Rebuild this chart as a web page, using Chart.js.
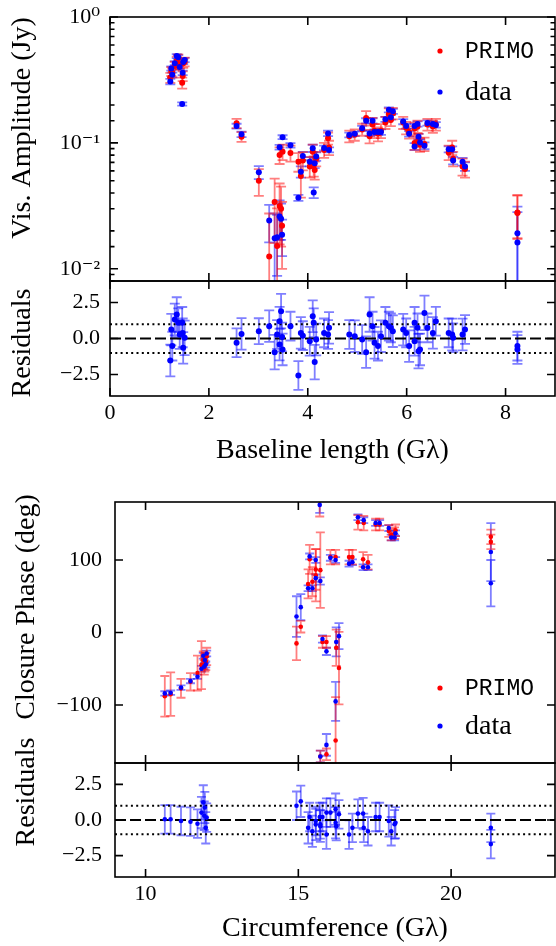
<!DOCTYPE html>
<html>
<head>
<meta charset="utf-8">
<script src="https://cdn.jsdelivr.net/npm/chart.js@4.4.1/dist/chart.umd.min.js"></script>
<style>
  html, body { margin: 0; padding: 0; background: #fff; }
  #wrap { position: relative; width: 556px; height: 946px; overflow: hidden; }
  canvas { position: absolute; left: 0; }
</style>
</head>
<body>
<div id="wrap">
  <canvas id="c-amp"  width="556" height="283" style="top:0px"></canvas>
  <canvas id="c-res1" width="556" height="208" style="top:262px"></canvas>
  <canvas id="c-cp"   width="556" height="280" style="top:485px"></canvas>
  <canvas id="c-res2" width="556" height="226" style="top:720px"></canvas>
</div>
<script>
// ── Amplitude de visibilidade ────────────────────────────────
const ampX = [1.22,1.26,1.24,1.35,1.38,1.31,1.41,1.48,1.51,1.47,1.46, 2.56,2.66, 3.01,
  3.22,3.33,3.38,3.43,3.46,3.48, 3.43,3.49, 3.65, 3.81,3.86,3.90,
  4.04,4.10,4.14,4.12,4.17, 4.33,4.43,4.41, 4.84,4.95,
  5.10,5.18,5.25,5.31,5.35,5.42,5.48, 5.57,5.64,5.72,5.68,
  5.93,5.99,6.05,6.16,6.24,6.27,6.22,6.16,6.36,6.42,6.53,6.59,
  6.85,6.92,6.94,7.13,7.18, 8.24,8.24];
const ampData = [0.307,0.347,0.39,0.49,0.48,0.43,0.40,0.44,0.456,0.36,0.204, 0.136,0.117, 0.0585,
  0.0242,0.0175,0.0178,0.026,0.025,0.0186, 0.0925,0.111, 0.0957, 0.0366,0.059,0.0788,
  0.071,0.0907,0.069,0.0404,0.078, 0.091,0.088,0.119, 0.1157,0.118,
  0.1306,0.150,0.119,0.150,0.122,0.122,0.122, 0.154,0.183,0.178,0.160,
  0.1476,0.136,0.118,0.136,0.112,0.1006,0.1415,0.0935,0.095,0.144,0.141,0.139,
  0.089,0.089,0.0724,0.071,0.065, 0.0192,0.0162];
const ampDataErr = [0.015,0.015,0.015,0.018,0.018,0.015,0.015,0.018,0.018,0.015,0.006, 0.006,0.006, 0.007,
  0.008,0.010,0.009,0.009,0.008,0.006, 0.004,0.004, 0.004, 0.002,0.006,0.006,
  0.006,0.006,0.006,0.004,0.006, 0.004,0.004,0.006, 0.005,0.005,
  0.006,0.007,0.006,0.007,0.006,0.006,0.006, 0.007,0.008,0.008,0.007,
  0.007,0.006,0.006,0.006,0.006,0.006,0.007,0.006,0.006,0.007,0.007,0.007,
  0.005,0.005,0.005,0.005,0.005, 0.012,0.012];
const ampModel = [0.33,0.36,0.37,0.45,0.47,0.41,0.42,0.43,0.44,0.34,0.30, 0.143,0.112, 0.050,
  0.0125,0.034,0.0152,0.0316,0.030,0.022, 0.080,0.085, 0.083, 0.071,0.0547,0.0725,
  0.065,0.085,0.061,0.066,0.075, 0.088,0.092,0.109, 0.113,0.116,
  0.128,0.158,0.113,0.140,0.125,0.118,0.125, 0.145,0.170,0.172,0.152,
  0.145,0.132,0.122,0.130,0.105,0.097,0.135,0.100,0.098,0.140,0.135,0.140,
  0.084,0.092,0.075,0.065,0.062, 0.0277,0.028];
const ampModelErr = [0.03,0.03,0.03,0.035,0.035,0.03,0.03,0.035,0.035,0.03,0.03, 0.012,0.010, 0.012,
  0.015,0.018,0.015,0.016,0.015,0.012, 0.012,0.012, 0.012, 0.012,0.018,0.012,
  0.012,0.012,0.010,0.012,0.010, 0.012,0.012,0.012, 0.012,0.012,
  0.014,0.021,0.014,0.018,0.016,0.015,0.016, 0.016,0.018,0.018,0.016,
  0.016,0.015,0.014,0.015,0.013,0.012,0.015,0.012,0.012,0.015,0.015,0.015,
  0.011,0.012,0.010,0.010,0.009, 0.0105,0.0105];
const ampRes = [-1.53,-0.53,0.62,1.67,1.09,1.32,0.28,-0.65,0.05,0.39,1.09, -0.30,0.32, 0.51,
  0.86,-0.95,0.28,-0.42,1.90,0.10, 1.20,-0.76, 0.86, -2.57,0.39,0.20,
  -0.19,1.55,-1.64,1.09,-0.07, 0.39,0.74,0.28, 0.28,0.16,
  -0.07,-0.95,1.67,0.86,-0.30,-0.53,0.16, 1.09,0.86,0.51,0.74,
  0.62,0.39,-0.53,-0.19,-0.88,-0.76,0.74,1.09,1.78,0.74,0.39,1.20,
  0.39,0.28,0.05,0.28,0.62, -0.53,-0.76];
const ampResErr = [1.1,1.0,1.1,1.2,1.0,1.1,1.0,1.1,1.2,1.0,1.1, 1.0,1.1, 0.9,
  1.1,1.2,1.0,1.1,1.2,1.0, 1.0,1.1, 1.0, 1.0,1.1,1.0,
  1.0,1.1,1.2,1.0,1.1, 1.0,1.1,1.0, 1.0,1.1,
  1.0,1.1,1.2,1.0,1.1,1.0,1.1, 1.1,1.0,1.1,1.0,
  1.1,1.0,1.1,1.0,1.2,1.1,1.0,1.1,1.2,1.0,1.1,1.0,
  1.0,1.1,1.0,1.1,1.0, 1.0,1.0];
const ampYTicks  = [0.01, 0.1, 1];
const ampYLabels = ['10⁻²', '10⁻¹', '10⁰'];

// ── Fase de fechamento ───────────────────────────────────────
const cpX = [10.63,10.82,11.16,11.47,11.70,11.83,11.89,11.94,12.00,11.97,11.92,
  14.94,15.08,15.32,15.37,15.46,15.57,15.57,15.72,15.70,
  15.79,15.92,16.05,16.22,16.24,16.33,16.22,15.92,15.72,
  16.66,16.77,17.12,17.28,16.95,17.14,17.53,17.66,17.96,18.04,18.18,18.15,
  21.30,21.30];
const cpData = [-84,-83,-76,-67,-61,-50,-32,-38,-29,-44,-47,
  22,35,61,105,61,100,75,71,176,
  -9,-26,103,100,-13,-5,-95,-155,-171,
  95,97,90,90,159,155,151,151,144,131,137,131,
  111,68];
const cpDataErr = [3,3,3,3,3,4,4,4,4,4,4,
  28,18,4,4,4,4,5,5,11,
  5,5,4,4,20,18,27,15,8,
  4,4,4,4,4,4,4,4,4,4,4,4,
  40,32];
const cpModel = [-88,-85,-77,-68,-56,-45,-38,-42,-33,-40,-48,
  -15,8,67,101,70,87,79,86,190,
  -13,-13,104,104,-21,-49,-149,-168,-171,
  104,104,101,97,152,151,149,149,140,135,141,137,
  132,125];
const cpModelErr = [28,30,13,12,24,33,12,12,12,12,10,
  23,8,20,20,20,28,36,52,30,
  8,8,10,10,25,50,60,8,8,
  10,10,10,10,10,10,8,8,8,8,8,8,
  10,10];
const cpRes = [0.05,0.05,-0.07,-0.12,-0.26,0.52,1.24,0.88,0.17,-0.55,0.30,
  1.00,1.31,-0.55,0.21,-0.79,-0.07,-0.31,-0.43,0.21,
  0.21,-1.02,0.52,-0.19,-0.43,0.40,0.76,0.52,-0.31,
  -1.02,-0.55,0.45,-0.79,0.45,-0.55,0.21,0.21,-0.07,-0.79,-0.19,-0.30,
  -0.55,-1.69];
const cpResErr = [1.0,1.0,1.0,1.0,1.0,1.1,1.2,1.1,1.0,1.1,1.0,
  1.0,1.1,1.1,1.0,1.1,1.0,1.1,1.1,1.0,
  1.0,1.0,1.0,1.1,1.0,1.0,1.1,1.0,1.0,
  1.0,1.0,1.1,1.0,1.0,1.0,1.0,1.0,1.1,1.0,1.1,1.0,
  1.0,1.0];

// linhas de referência dos resíduos
const resZero  = [0];
const resSigma = [1, -1];

const RED = '#ff0000', BLUE = '#0000ff';
const RED_ERR = 'rgba(255,0,0,0.5)', BLUE_ERR = 'rgba(0,0,255,0.5)';
const SERIF = '"Liberation Serif", "DejaVu Serif", serif';

Chart.defaults.font.family = SERIF;
Chart.defaults.color = '#000';
Chart.defaults.animation = false;

// ── Utilitários ──────────────────────────────────────────────
const pts = (xs, ys) => xs.map((x, i) => ({ x, y: ys[i] }));
const minus = v => String(v).replace('-', '\u2212');
const isPow10 = v => Math.abs(Math.log10(v) - Math.round(Math.log10(v))) < 1e-6;

function ampYLabel(v) {
  const i = ampYTicks.findIndex(t => Math.abs(Math.log10(t) - Math.log10(v)) < 1e-6);
  return i >= 0 ? ampYLabels[i] : '';
}

// largura/altura fixas e sem padding automático nos eixos
function fixW(w) {
  return s => { s.width = w; s.paddingTop = 0; s.paddingBottom = 0; s.paddingLeft = 0; s.paddingRight = 0; };
}
function fixH(h) {
  return s => { s.height = h; s.paddingTop = 0; s.paddingBottom = 0; s.paddingLeft = 0; s.paddingRight = 0; };
}

function hLine(level, xmin, xmax, dash) {
  return {
    type: 'scatter', showLine: true, order: 5,
    data: [{ x: xmin, y: level }, { x: xmax, y: level }],
    borderColor: '#000', borderWidth: 2, borderDash: dash,
    pointRadius: 0, fill: false
  };
}

// ── Plugins ──────────────────────────────────────────────────
const errorBars = {
  id: 'errorBars',
  beforeDatasetsDraw(chart) {
    const { ctx, chartArea: a, scales: { x, y } } = chart;
    ctx.save();
    ctx.beginPath();
    ctx.rect(a.left, a.top, a.right - a.left, a.bottom - a.top);
    ctx.clip();
    ctx.lineWidth = 1.8;
    // desenha na ordem inversa para o azul ficar por cima
    [...chart.data.datasets].reverse().forEach(ds => {
      if (!ds.errors) return;
      ctx.strokeStyle = ds.errorColor;
      const cap = ds.cap || 4;
      ds.data.forEach((p, i) => {
        const e = ds.errors[i];
        const px = x.getPixelForValue(p.x);
        const loV = y.type === 'logarithmic' ? Math.max(p.y - e, 1e-4) : p.y - e;
        const hi = y.getPixelForValue(p.y + e);
        const lo = y.getPixelForValue(loV);
        ctx.beginPath();
        ctx.moveTo(px, hi); ctx.lineTo(px, lo);
        ctx.moveTo(px - cap, hi); ctx.lineTo(px + cap, hi);
        ctx.moveTo(px - cap, lo); ctx.lineTo(px + cap, lo);
        ctx.stroke();
      });
    });
    ctx.restore();
  }
};

const frame = {
  id: 'frame',
  afterDraw(chart) {
    const { ctx, chartArea: a, scales: { x, y } } = chart;
    ctx.save();
    ctx.strokeStyle = '#000';
    ctx.lineWidth = 1.6;
    ctx.beginPath();
    x.ticks.forEach(t => {
      const px = x.getPixelForValue(t.value);
      ctx.moveTo(px, a.bottom); ctx.lineTo(px, a.bottom - 8);
      ctx.moveTo(px, a.top);    ctx.lineTo(px, a.top + 8);
    });
    y.ticks.forEach(t => {
      const py = y.getPixelForValue(t.value);
      const len = (y.type !== 'logarithmic' || isPow10(t.value)) ? 8 : 4.5;
      ctx.moveTo(a.left, py);  ctx.lineTo(a.left + len, py);
      ctx.moveTo(a.right, py); ctx.lineTo(a.right - len, py);
    });
    ctx.stroke();
    ctx.strokeRect(a.left, a.top, a.right - a.left, a.bottom - a.top);
    ctx.restore();
  }
};

const dotLegend = {
  id: 'dotLegend',
  afterDraw(chart, args, o) {
    if (!o || !o.show) return;
    const ctx = chart.ctx;
    ctx.save();
    chart.data.datasets.filter(d => d.legendFont).forEach((ds, i) => {
      const y = o.top + i * o.gap;
      ctx.fillStyle = ds.backgroundColor;
      ctx.beginPath(); ctx.arc(o.left, y, 2.6, 0, Math.PI * 2); ctx.fill();
      ctx.fillStyle = '#000';
      ctx.font = ds.legendFont;
      ctx.textBaseline = 'middle';
      ctx.fillText(ds.label, o.left + 25, y + 1);
    });
    ctx.restore();
  }
};

const yTitle = {
  id: 'yTitle',
  afterDraw(chart, args, o) {
    if (!o || !o.text) return;
    const ctx = chart.ctx;
    ctx.save();
    ctx.translate(o.x, o.y);
    ctx.rotate(-Math.PI / 2);
    ctx.font = '28px ' + SERIF;
    ctx.fillStyle = '#000';
    ctx.textAlign = 'center';
    ctx.textBaseline = 'middle';
    ctx.fillText(o.text, 0, 0);
    ctx.restore();
  }
};

const plugins = [errorBars, frame, dotLegend, yTitle];
const noGrid = { display: false, drawTicks: false };
const noBorder = { display: false };
const tickFont = { size: 22 };

// ── Painel 1: amplitude ──────────────────────────────────────
new Chart(document.getElementById('c-amp'), {
  type: 'scatter',
  data: {
    datasets: [
      { label: 'PRIMO', order: 1, data: pts(ampX, ampModel), errors: ampModelErr, errorColor: RED_ERR, cap: 5,
        backgroundColor: RED, borderWidth: 0, pointRadius: 3, legendFont: '23px "Liberation Mono", monospace' },
      { label: 'data', order: 0, data: pts(ampX, ampData), errors: ampDataErr, errorColor: BLUE_ERR, cap: 5,
        backgroundColor: BLUE, borderWidth: 0, pointRadius: 3, legendFont: '28px ' + SERIF }
    ]
  },
  options: {
    responsive: false, devicePixelRatio: 1,
    layout: { autoPadding: false, padding: { top: 17, bottom: 2, left: 0, right: 1 } },
    plugins: {
      legend: { display: false }, tooltip: { enabled: false },
      dotLegend: { show: true, left: 440, top: 51, gap: 41 },
      yTitle: { text: 'Vis. Amplitude (Jy)', x: 23, y: 128 }
    },
    scales: {
      x: { type: 'linear', min: 0, max: 9, grid: noGrid, border: noBorder,
           ticks: { display: false, stepSize: 2, includeBounds: false },
           afterFit: fixH(0) },
      y: { type: 'logarithmic', min: 0.008, max: 1, grid: noGrid, border: noBorder,
           ticks: { autoSkip: false, padding: 10, font: tickFont, callback: v => ampYLabel(v) },
           afterFit: fixW(110) }
    }
  },
  plugins
});

// ── Painel 2: resíduos da amplitude ──────────────────────────
new Chart(document.getElementById('c-res1'), {
  type: 'scatter',
  data: {
    datasets: [
      { label: 'res', order: 0, data: pts(ampX, ampRes), errors: ampResErr, errorColor: BLUE_ERR, cap: 5,
        backgroundColor: BLUE, borderWidth: 0, pointRadius: 3 },
      hLine(resZero[0], 0, 9, [11, 4]),
      hLine(resSigma[0], 0, 9, [2, 3.3]),
      hLine(resSigma[1], 0, 9, [2, 3.3])
    ]
  },
  options: {
    responsive: false, devicePixelRatio: 1,
    layout: { autoPadding: false, padding: { top: 19, bottom: 0, left: 0, right: 1 } },
    plugins: {
      legend: { display: false }, tooltip: { enabled: false },
      yTitle: { text: 'Residuals', x: 23, y: 81 }
    },
    scales: {
      x: { type: 'linear', min: 0, max: 9, grid: noGrid, border: noBorder,
           ticks: { stepSize: 2, includeBounds: false, padding: 4, font: tickFont, maxRotation: 0 },
           title: { display: true, text: 'Baseline length (Gλ)', font: { size: 28 }, padding: { top: 0, bottom: 3 } },
           afterFit: fixH(74) },
      y: { type: 'linear', min: -4, max: 4, grid: noGrid, border: noBorder,
           ticks: { stepSize: 2.5, includeBounds: false, padding: 10, font: tickFont,
                    callback: v => minus(v.toFixed(1)) },
           afterFit: fixW(110) }
    }
  },
  plugins
});

// ── Painel 3: fase de fechamento ─────────────────────────────
new Chart(document.getElementById('c-cp'), {
  type: 'scatter',
  data: {
    datasets: [
      { label: 'PRIMO', order: 1, data: pts(cpX, cpModel), errors: cpModelErr, errorColor: RED_ERR, cap: 4.5,
        backgroundColor: RED, borderWidth: 0, pointRadius: 2.3, legendFont: '23px "Liberation Mono", monospace' },
      { label: 'data', order: 0, data: pts(cpX, cpData), errors: cpDataErr, errorColor: BLUE_ERR, cap: 4.5,
        backgroundColor: BLUE, borderWidth: 0, pointRadius: 2.3, legendFont: '28px ' + SERIF }
    ]
  },
  options: {
    responsive: false, devicePixelRatio: 1,
    layout: { autoPadding: false, padding: { top: 17, bottom: 2, left: 0, right: 1 } },
    plugins: {
      legend: { display: false }, tooltip: { enabled: false },
      dotLegend: { show: true, left: 440, top: 203, gap: 38 },
      yTitle: { text: 'Closure Phase (deg)', x: 27, y: 122 }
    },
    scales: {
      x: { type: 'linear', min: 9, max: 23.4, grid: noGrid, border: noBorder,
           ticks: { display: false, stepSize: 5, includeBounds: false },
           afterFit: fixH(0) },
      y: { type: 'linear', min: -180, max: 180, grid: noGrid, border: noBorder,
           ticks: { stepSize: 100, includeBounds: false, padding: 13, font: tickFont, callback: v => minus(v) },
           afterFit: fixW(115) }
    }
  },
  plugins
});

// ── Painel 4: resíduos da fase ───────────────────────────────
new Chart(document.getElementById('c-res2'), {
  type: 'scatter',
  data: {
    datasets: [
      { label: 'res', order: 0, data: pts(cpX, cpRes), errors: cpResErr, errorColor: BLUE_ERR, cap: 4.5,
        backgroundColor: BLUE, borderWidth: 0, pointRadius: 2.3 },
      hLine(resZero[0], 9, 23.4, [11, 4]),
      hLine(resSigma[0], 9, 23.4, [2, 3.3]),
      hLine(resSigma[1], 9, 23.4, [2, 3.3])
    ]
  },
  options: {
    responsive: false, devicePixelRatio: 1,
    layout: { autoPadding: false, padding: { top: 43, bottom: 0, left: 0, right: 1 } },
    plugins: {
      legend: { display: false }, tooltip: { enabled: false },
      yTitle: { text: 'Residuals', x: 27, y: 72 }
    },
    scales: {
      x: { type: 'linear', min: 9, max: 23.4, grid: noGrid, border: noBorder,
           ticks: { stepSize: 5, includeBounds: false, padding: 4, font: tickFont, maxRotation: 0 },
           title: { display: true, text: 'Circumference (Gλ)', font: { size: 28 }, padding: { top: 0, bottom: 1 } },
           afterFit: fixH(69) },
      y: { type: 'linear', min: -4, max: 4, grid: noGrid, border: noBorder,
           ticks: { stepSize: 2.5, includeBounds: false, padding: 13, font: tickFont,
                    callback: v => minus(v.toFixed(1)) },
           afterFit: fixW(115) }
    }
  },
  plugins
});
</script>
</body>
</html>
